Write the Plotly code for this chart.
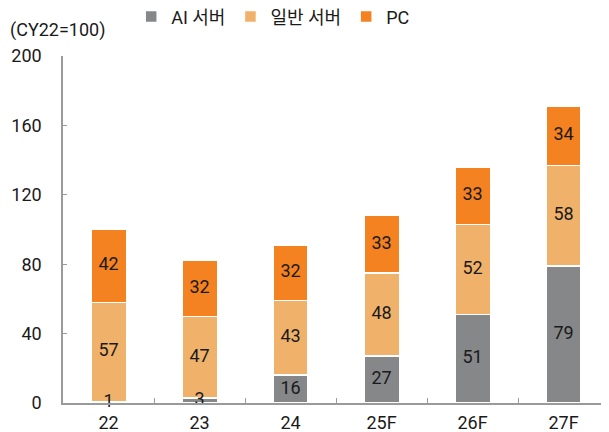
import numpy as np
import plotly.graph_objects as go

categories = ["22", "23", "24", "25F", "26F", "27F"]
ai_server = [1, 3, 16, 27, 51, 79]
general_server = [57, 47, 43, 48, 52, 58]
pc = [42, 32, 32, 33, 33, 34]
series_names = ["AI 서버", "일반 서버", "PC"]
colors = ["#858789", "#F0B26B", "#F58220"]
y_ticks = [0, 40, 80, 120, 160, 200]

FONT = "'Liberation Sans Narrow', Roboto, 'Noto Sans CJK KR', sans-serif"
FS = 18

fig = go.Figure()
series = [ai_server, general_server, pc]
for name, vals, col in zip(series_names, series, colors):
    fig.add_trace(go.Bar(
        x=categories, y=vals, name=name,
        marker=dict(color=col, line=dict(color="white", width=1.5)),
        width=0.39,
    ))

# data labels at segment midpoints
base = np.zeros(len(categories))
for vals in series:
    v = np.array(vals, dtype=float)
    mid = base + v / 2
    fig.add_trace(go.Scatter(
        x=categories, y=mid, mode="text", text=[str(x) for x in vals],
        textfont=dict(size=FS, color="#1a1a1a", family=FONT),
        showlegend=False, hoverinfo="skip", cliponaxis=False,
    ))
    base = base + v

# page body has an 8px default margin, so the figure is 8px smaller
fig.update_layout(
    barmode="stack",
    width=601, height=424,
    margin=dict(l=55, r=0, t=48, b=29, autoexpand=False),
    plot_bgcolor="white", paper_bgcolor="white",
    font=dict(family=FONT, size=FS, color="#1a1a1a"),
    legend=dict(orientation="h", x=0.385, xanchor="center", y=1.113, yanchor="middle",
                font=dict(size=FS), itemwidth=30, bgcolor="rgba(0,0,0,0)",
                traceorder="normal", tracegroupgap=0),
    annotations=[dict(text="(CY22=100)", xref="paper", yref="paper",
                      x=-0.099, y=1.04, xanchor="left", yanchor="bottom",
                      showarrow=False, font=dict(size=FS), borderpad=0)],
)

fig.update_xaxes(
    showline=True, linecolor="#9a9a9a", linewidth=1.5,
    ticks="inside", tickson="boundaries", ticklen=5, tickcolor="#9a9a9a",
    showgrid=False, tickfont=dict(size=FS), automargin=False,
    ticklabelstandoff=3,
)
fig.update_yaxes(
    range=[0, 200], tickvals=y_ticks, showline=True, linecolor="#9a9a9a",
    linewidth=1.5, ticks="inside", ticklen=4, tickcolor="#9a9a9a",
    showgrid=False, zeroline=False, tickfont=dict(size=FS),
    ticklabelstandoff=16, automargin=False,
)

fig.write_html("out.html")
